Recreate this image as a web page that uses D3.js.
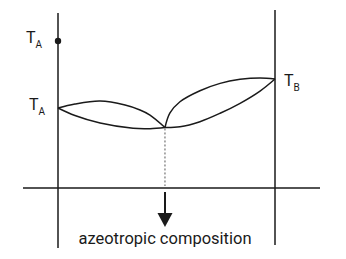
<!DOCTYPE html>
<html><head><meta charset="utf-8">
<script src="https://cdn.jsdelivr.net/npm/d3@7"></script>
<style>html,body{margin:0;padding:0;background:#fff}svg{display:block}</style>
</head><body>
<svg id="c" width="346" height="259"></svg>
<script>
// Composition x (mole fraction of B, 0..1), temperature in arbitrary units
const TA_low = 45.7;     // boiling point of A on the diagram
const TA_high = 84;      // marked dot on the left axis
const TB = 62.3;         // boiling point of B
const azeo = {x: 0.493, t: 34.6};

const leftVapour  = [[0,45.7],[0.078,48],[0.194,49.7],[0.309,47.4],[0.378,44.6],[0.424,41.7],[0.493,34.6]];
const leftLiquid  = [[0,45.7],[0.078,41.4],[0.194,37.1],[0.346,34.1],[0.424,33.9],[0.493,34.6]];
const rightVapour = [[0.493,34.6],[0.516,42.9],[0.562,49.3],[0.654,55.6],[0.747,59.8],[0.839,62.1],[0.931,62.9],[1,62.3]];
const rightLiquid = [[0.493,34.6],[0.562,35.0],[0.654,37.9],[0.747,42.7],[0.839,48.4],[0.931,55.4],[1,62.3]];

const labels = ["T", "A", "B"];
const caption = "azeotropic composition";

const svg = d3.select("#c");
const x = d3.scaleLinear().domain([0,1]).range([58,275]);
const y = d3.scaleLinear().domain([0,100]).range([188,13]);
const ink = "#1a1a1a";

// axes frame
svg.append("line").attr("x1",23).attr("x2",320).attr("y1",y(0)).attr("y2",y(0)).attr("stroke",ink).attr("stroke-width",1.5);
svg.append("line").attr("x1",x(0)).attr("x2",x(0)).attr("y1",y(100)).attr("y2",248).attr("stroke",ink).attr("stroke-width",1.5);
svg.append("line").attr("x1",x(1)).attr("x2",x(1)).attr("y1",y(101.7)).attr("y2",245).attr("stroke",ink).attr("stroke-width",1.5);

const line = d3.line().x(d=>x(d[0])).y(d=>y(d[1])).curve(d3.curveCatmullRom.alpha(0.5));
[leftVapour,leftLiquid,rightVapour,rightLiquid].forEach(d=>{
  svg.append("path").attr("d",line(d)).attr("fill","none").attr("stroke",ink).attr("stroke-width",1.5);
});

// dot
svg.append("circle").attr("cx",x(0)).attr("cy",y(TA_high)).attr("r",3.2).attr("fill",ink);

// dotted line from azeotrope
svg.append("line").attr("x1",x(azeo.x)).attr("x2",x(azeo.x)).attr("y1",y(azeo.t)+1).attr("y2",y(0)-2)
  .attr("stroke","#555").attr("stroke-width",1).attr("stroke-dasharray","2,2");

// arrow
svg.append("line").attr("x1",x(azeo.x)).attr("x2",x(azeo.x)).attr("y1",y(0)+4).attr("y2",215).attr("stroke",ink).attr("stroke-width",2);
const ax = x(azeo.x);
svg.append("path").attr("d",`M${ax-7.5},213L${ax+7.5},213L${ax},227Z`).attr("fill",ink);

// labels
function tLabel(px, py, sub){
  const t = svg.append("text").attr("x",px).attr("y",py).attr("font-family","Roboto, sans-serif").attr("fill",ink);
  t.append("tspan").attr("font-size",16).text(labels[0]);
  t.append("tspan").attr("font-size",10).attr("dy",5).text(sub);
}
tLabel(26, y(TA_high)+2, labels[1]);
tLabel(29, y(TA_low)+2, labels[1]);
tLabel(284, y(TB)+7, labels[2]);

svg.append("text").attr("x",ax).attr("y",244).attr("text-anchor","middle")
  .attr("font-family","Roboto, sans-serif").attr("font-size",16.5).attr("fill",ink).text(caption);
</script>
</body></html>
